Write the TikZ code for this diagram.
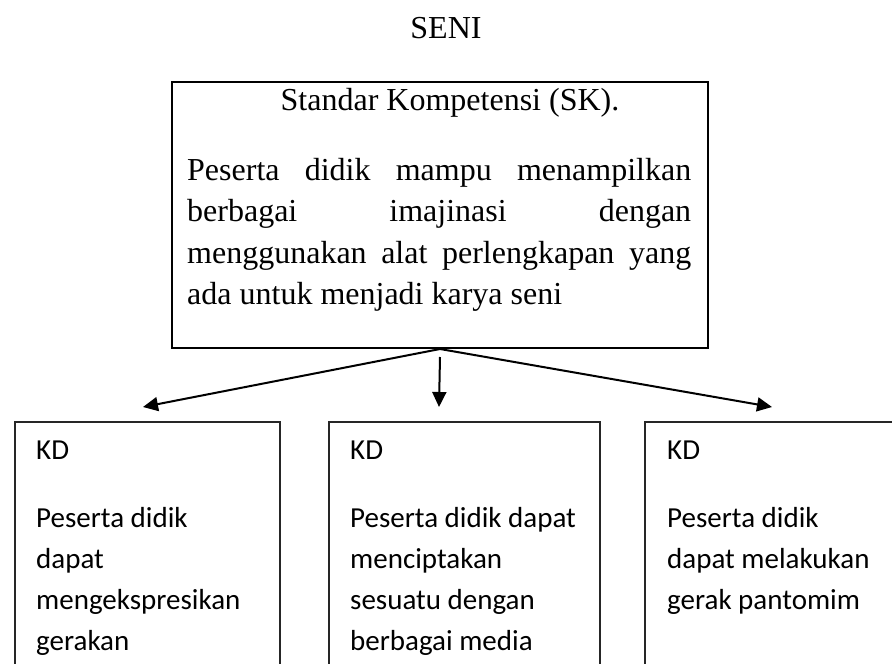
\documentclass[tikz,border=0pt]{standalone}
\usepackage{fontspec}
\setmainfont{Liberation Serif}
\newfontfamily\kdfont{Carlito}
\usetikzlibrary{arrows.meta}

\tikzset{
  skbox/.style={draw=black, line width=2pt, inner sep=0pt, anchor=north west},
  kdbox/.style={draw=black!85, line width=1.5pt, inner sep=0pt, anchor=north west,
                minimum width=265pt, minimum height=280pt},
  sktext/.style={inner sep=0pt, anchor=base west, font=\fontsize{32pt}{38pt}\selectfont},
  kdtext/.style={inner sep=0pt, anchor=base west, font=\kdfont\fontsize{29pt}{35pt}\selectfont},
  link/.style={line width=2pt, -{Triangle[length=15pt, width=14pt]}}
}

\begin{document}
\begin{tikzpicture}[x=1pt, y=-1pt]
  \useasboundingbox (0,0) rectangle (892,664);
  \clip (0,0) rectangle (892,664);

  % title
  \node[inner sep=0pt, anchor=base, font=\fontsize{32pt}{38pt}\selectfont] (title) at (446,38) {SENI};

  % competency standard box
  \node[skbox, minimum width=536pt, minimum height=266pt] (sk) at (171,81) {};
  \node[inner sep=0pt, anchor=base, font=\fontsize{32pt}{38pt}\selectfont] (skhead) at (450,110) {Standar Kompetensi (SK).};
  \node[sktext] (skl1) at (187,180) {\makebox[504pt][s]{Peserta didik mampu menampilkan}};
  \node[sktext] (skl2) at (187,221.5) {\makebox[504pt][s]{berbagai imajinasi dengan}};
  \node[sktext] (skl3) at (187,263) {\makebox[504pt][s]{menggunakan alat perlengkapan yang}};
  \node[sktext] (skl4) at (187,304.5) {ada untuk menjadi karya seni};

  % basic competency boxes
  \node[kdbox] (kd1) at (14,421) {};
  \node[kdbox, minimum width=271pt] (kd2) at (328,421) {};
  \node[kdbox, minimum width=271pt] (kd3) at (644,421) {};

  \node[kdtext] (kd1a) at (36,459) {KD};
  \node[kdtext] (kd1b) at (36,527) {Peserta didik};
  \node[kdtext] (kd1c) at (36,568) {dapat};
  \node[kdtext] (kd1d) at (36,609) {mengekspresikan};
  \node[kdtext] (kd1e) at (36,650) {gerakan};

  \node[kdtext] (kd2a) at (350,459) {KD};
  \node[kdtext] (kd2b) at (350,527) {Peserta didik dapat};
  \node[kdtext] (kd2c) at (350,568) {menciptakan};
  \node[kdtext] (kd2d) at (350,609) {sesuatu dengan};
  \node[kdtext] (kd2e) at (350,650) {berbagai media};

  \node[kdtext] (kd3a) at (667,459) {KD};
  \node[kdtext] (kd3b) at (667,527) {Peserta didik};
  \node[kdtext] (kd3c) at (667,568) {dapat melakukan};
  \node[kdtext] (kd3d) at (667,609) {gerak pantomim};

  % connectors
  \coordinate (tipL) at (143,407);
  \coordinate (tipM) at (439,407);
  \coordinate (tipR) at (772,407);
  \draw[link] (sk.south) -- (tipL);
  \draw[link] (sk.south) -- (tipR);
  \draw[link] ([yshift=-8pt]sk.south) -- (tipM);
\end{tikzpicture}
\end{document}
